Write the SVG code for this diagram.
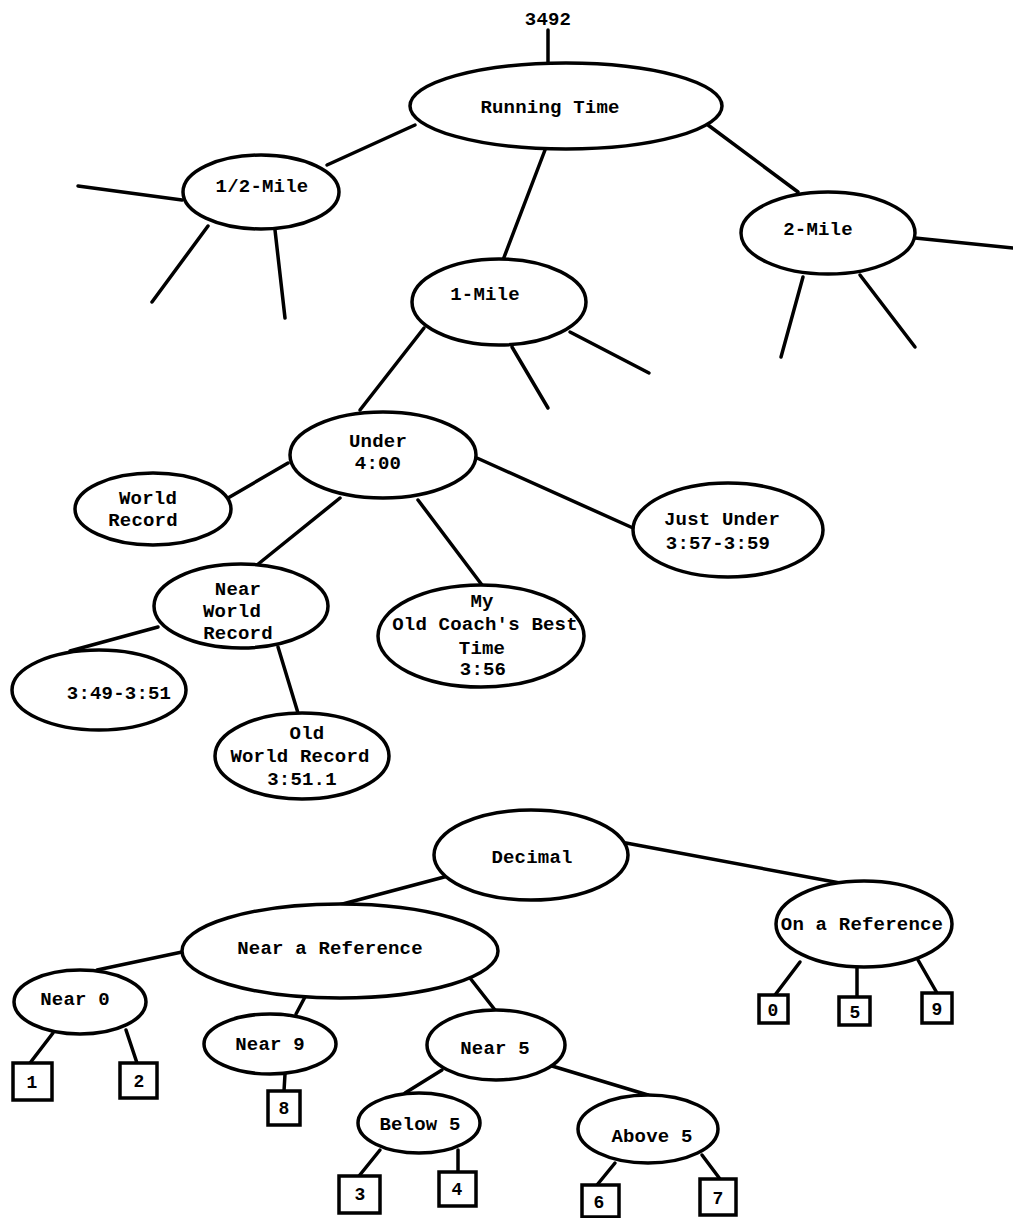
<svg xmlns="http://www.w3.org/2000/svg" width="1013" height="1218" viewBox="0 0 1013 1218">
<style>
.n{fill:#fff;stroke:#000;stroke-width:3.5}
.c line{stroke:#000;stroke-width:3.5;stroke-linecap:round}
text{font-family:"Liberation Mono","DejaVu Sans Mono",monospace;font-weight:bold;font-size:19px;letter-spacing:0.2px;text-anchor:middle;fill:#000}
.b{font-size:18px}
</style>
<rect width="1013" height="1218" fill="#fff"/>
<g class="c" id="connectors">
<line x1="548" y1="30" x2="548" y2="63"/>
<line x1="415" y1="125" x2="327" y2="165"/>
<line x1="545" y1="150" x2="503" y2="260"/>
<line x1="708" y1="125" x2="798" y2="192"/>
<line x1="182" y1="200" x2="78" y2="186"/>
<line x1="208" y1="226" x2="152" y2="302"/>
<line x1="275" y1="230" x2="285" y2="318"/>
<line x1="570" y1="332" x2="649" y2="373"/>
<line x1="512" y1="347" x2="548" y2="408"/>
<line x1="424" y1="328" x2="360" y2="410"/>
<line x1="915" y1="238" x2="1013" y2="248"/>
<line x1="803" y1="277" x2="781" y2="357"/>
<line x1="860" y1="275" x2="915" y2="347"/>
<line x1="288" y1="463" x2="228" y2="498"/>
<line x1="477" y1="458" x2="633" y2="528"/>
<line x1="340" y1="498" x2="257" y2="565"/>
<line x1="418" y1="500" x2="482" y2="585"/>
<line x1="158" y1="627" x2="70" y2="651"/>
<line x1="278" y1="647" x2="298" y2="713"/>
<line x1="448" y1="876" x2="320" y2="910"/>
<line x1="626" y1="843" x2="840" y2="883"/>
<line x1="182" y1="952" x2="97" y2="970"/>
<line x1="53" y1="1033" x2="30" y2="1063"/>
<line x1="126" y1="1030" x2="137" y2="1063"/>
<line x1="305" y1="997" x2="296" y2="1014"/>
<line x1="285" y1="1074" x2="284" y2="1091"/>
<line x1="470" y1="978" x2="495" y2="1010"/>
<line x1="442" y1="1070" x2="405" y2="1093"/>
<line x1="380" y1="1150" x2="359" y2="1176"/>
<line x1="458" y1="1150" x2="458" y2="1172"/>
<line x1="552" y1="1066" x2="648" y2="1095"/>
<line x1="615" y1="1163" x2="597" y2="1185"/>
<line x1="702" y1="1155" x2="720" y2="1179"/>
<line x1="800" y1="962" x2="775" y2="995"/>
<line x1="857" y1="967" x2="857" y2="997"/>
<line x1="918" y1="960" x2="937" y2="993"/>
</g>
<g id="label3492"><text x="548" y="25">3492</text></g>
<g id="running"><ellipse class="n" cx="566" cy="106" rx="156" ry="43"/><text x="550" y="113">Running Time</text></g>
<g id="half"><ellipse class="n" cx="261" cy="192" rx="78" ry="37"/><text x="262" y="192">1/2-Mile</text></g>
<g id="one"><ellipse class="n" cx="499" cy="302" rx="87" ry="43"/><text x="485" y="300">1-Mile</text></g>
<g id="two"><ellipse class="n" cx="828" cy="233" rx="87" ry="41"/><text x="818" y="235">2-Mile</text></g>
<g id="under"><ellipse class="n" cx="383" cy="455" rx="93" ry="43"/><text x="378" y="447">Under</text><text x="378" y="469">4:00</text></g>
<g id="world"><ellipse class="n" cx="153" cy="509" rx="78" ry="36"/><text x="148" y="504">World</text><text x="143" y="526">Record</text></g>
<g id="just"><ellipse class="n" cx="728" cy="530" rx="95" ry="47"/><text x="722" y="525">Just Under</text><text x="718" y="549">3:57-3:59</text></g>
<g id="nwr"><ellipse class="n" cx="241" cy="606" rx="87" ry="42"/><text x="238" y="595">Near</text><text x="232" y="617">World</text><text x="238" y="639">Record</text></g>
<g id="coach"><ellipse class="n" cx="481" cy="636" rx="103" ry="51"/><text x="482" y="607">My</text><text x="485" y="630">Old Coach's Best</text><text x="482" y="654">Time</text><text x="483" y="675">3:56</text></g>
<g id="t349"><ellipse class="n" cx="99" cy="690" rx="87" ry="40"/><text x="119" y="699">3:49-3:51</text></g>
<g id="owr"><ellipse class="n" cx="302" cy="756" rx="87" ry="43"/><text x="307" y="739">Old</text><text x="300" y="762">World Record</text><text x="302" y="785">3:51.1</text></g>
<g id="decimal"><ellipse class="n" cx="531" cy="855" rx="97" ry="45"/><text x="532" y="863">Decimal</text></g>
<g id="nearref"><ellipse class="n" cx="340" cy="951" rx="158" ry="47"/><text x="330" y="954">Near a Reference</text></g>
<g id="onref"><ellipse class="n" cx="864" cy="924" rx="88" ry="43"/><text x="862" y="930">On a Reference</text></g>
<g id="near0"><ellipse class="n" cx="80" cy="1002" rx="66" ry="32"/><text x="75" y="1005">Near 0</text></g>
<g id="near9"><ellipse class="n" cx="270" cy="1044" rx="66" ry="30"/><text x="270" y="1050">Near 9</text></g>
<g id="near5"><ellipse class="n" cx="496" cy="1045" rx="69" ry="35"/><text x="495" y="1054">Near 5</text></g>
<g id="below5"><ellipse class="n" cx="419" cy="1123" rx="61" ry="30"/><text x="420" y="1130">Below 5</text></g>
<g id="above5"><ellipse class="n" cx="648" cy="1129" rx="70" ry="34"/><text x="652" y="1142">Above 5</text></g>
<g id="box1"><rect class="n" x="13" y="1063" width="39" height="37"/><text class="b" x="32" y="1088">1</text></g>
<g id="box2"><rect class="n" x="120" y="1063" width="37" height="35"/><text class="b" x="139" y="1087">2</text></g>
<g id="box8"><rect class="n" x="268" y="1091" width="32" height="34"/><text class="b" x="284" y="1114">8</text></g>
<g id="box3"><rect class="n" x="339" y="1176" width="41" height="37"/><text class="b" x="360" y="1200">3</text></g>
<g id="box4"><rect class="n" x="439" y="1172" width="37" height="34"/><text class="b" x="457" y="1195">4</text></g>
<g id="box6"><rect class="n" x="582" y="1185" width="37" height="32"/><text class="b" x="599" y="1208">6</text></g>
<g id="box7"><rect class="n" x="700" y="1179" width="36" height="36"/><text class="b" x="718" y="1204">7</text></g>
<g id="box0"><rect class="n" x="759" y="995" width="29" height="28"/><text class="b" x="773" y="1016">0</text></g>
<g id="box5"><rect class="n" x="839" y="997" width="31" height="28"/><text class="b" x="855" y="1018">5</text></g>
<g id="box9"><rect class="n" x="922" y="993" width="30" height="30"/><text class="b" x="937" y="1015">9</text></g>
</svg>
